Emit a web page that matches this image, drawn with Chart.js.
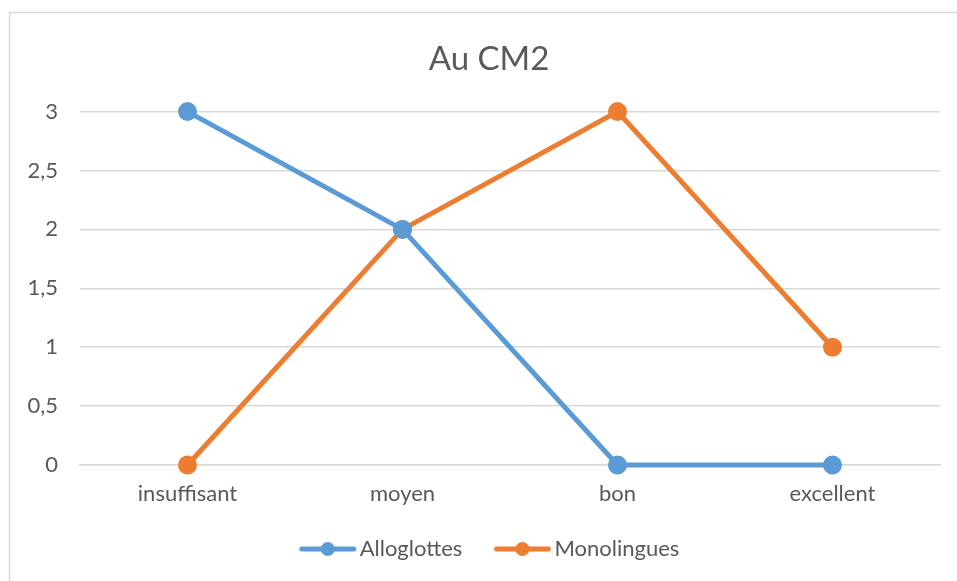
<!DOCTYPE html>
<html>
<head>
<meta charset="utf-8">
<script src="https://cdn.jsdelivr.net/npm/chart.js@4/dist/chart.umd.min.js"></script>
<style>
  html, body { margin: 0; padding: 0; background: #ffffff; }
  #wrap { width: 957px; height: 581px; position: relative; }
</style>
</head>
<body>
<div id="wrap"><canvas id="c" width="957" height="581"></canvas></div>
<script>
const categories = ['insuffisant', 'moyen', 'bon', 'excellent'];
const alloglottes = [3, 2, 0, 0];
const monolingues = [0, 2, 3, 1];
const seriesNames = ['Alloglottes', 'Monolingues'];
const chartTitle = 'Au CM2';

const BLUE = '#5B9BD5';
const ORANGE = '#ED7D31';
const TEXT = '#595959';
const GRID = '#d9d9d9';
const FONT = 'Lato, "Liberation Sans", sans-serif';

// Legend marker: a short thick line with a dot in the middle.
// The drawing sits in the right part of the canvas so that it starts at the
// item's left edge and runs close to the label text.
function legendMarker(color) {
  const cv = document.createElement('canvas');
  cv.width = 66; cv.height = 16;
  const g = cv.getContext('2d');
  g.strokeStyle = color; g.lineWidth = 5; g.lineCap = 'round';
  g.beginPath(); g.moveTo(11, 8); g.lineTo(63, 8); g.stroke();
  g.fillStyle = color;
  g.beginPath(); g.arc(37, 8, 7, 0, Math.PI * 2); g.fill();
  return cv;
}
const markers = [legendMarker(BLUE), legendMarker(ORANGE)];

// Light frame around the chart
const framePlugin = {
  id: 'frame',
  beforeDraw(chart) {
    const ctx = chart.ctx;
    ctx.save();
    ctx.strokeStyle = GRID;
    ctx.lineWidth = 1.5;
    ctx.strokeRect(9.5, 12.5, 1000, 1000);
    ctx.restore();
  }
};

new Chart(document.getElementById('c'), {
  type: 'line',
  data: {
    labels: categories,
    datasets: [
      {
        label: seriesNames[0], data: alloglottes,
        borderColor: BLUE, backgroundColor: BLUE,
        borderWidth: 5, pointRadius: 7, pointHoverRadius: 7,
        tension: 0, clip: false
      },
      {
        label: seriesNames[1], data: monolingues,
        borderColor: ORANGE, backgroundColor: ORANGE,
        borderWidth: 5, pointRadius: 7, pointHoverRadius: 7,
        tension: 0, clip: false
      }
    ]
  },
  options: {
    responsive: false,
    animation: false,
    layout: { padding: { top: 40, left: 21, right: 0, bottom: 11 } },
    plugins: {
      title: {
        display: true, text: chartTitle, color: TEXT,
        font: { family: FONT, size: 33, weight: 'normal' },
        padding: { top: 0, bottom: 32 }
      },
      legend: {
        position: 'bottom',
        labels: {
          color: TEXT,
          font: { family: FONT, size: 22 },
          usePointStyle: true,
          pointStyleWidth: 50,
          padding: 31,
          generateLabels(chart) {
            return chart.data.datasets.map((ds, i) => ({
              text: ds.label,
              fillStyle: ds.borderColor,
              strokeStyle: ds.borderColor,
              fontColor: TEXT,
              pointStyle: markers[i],
              datasetIndex: i,
              hidden: false
            }));
          }
        }
      },
      tooltip: { enabled: false }
    },
    scales: {
      x: {
        offset: true,
        grid: { display: false, drawTicks: false },
        border: { display: true, color: GRID, width: 1.5 },
        afterFit(scale) { scale.height = 42; },
        ticks: { color: TEXT, font: { family: FONT, size: 22 }, padding: 16 }
      },
      y: {
        min: 0, max: 3,
        grid: { color: GRID, lineWidth: 1.5, drawTicks: false },
        border: { display: false },
        afterFit(scale) { scale.width = 59; },
        ticks: {
          stepSize: 0.5,
          color: TEXT,
          font: { family: FONT, size: 22 },
          padding: 22,
          callback: v => String(v).replace('.', ',')
        }
      },
      // empty right-hand margin axis
      yRight: {
        position: 'right',
        min: 0, max: 3,
        grid: { display: false, drawOnChartArea: false },
        border: { display: false },
        ticks: { display: false },
        afterFit(scale) { scale.width = 17; }
      }
    }
  },
  plugins: [framePlugin]
});
</script>
</body>
</html>
